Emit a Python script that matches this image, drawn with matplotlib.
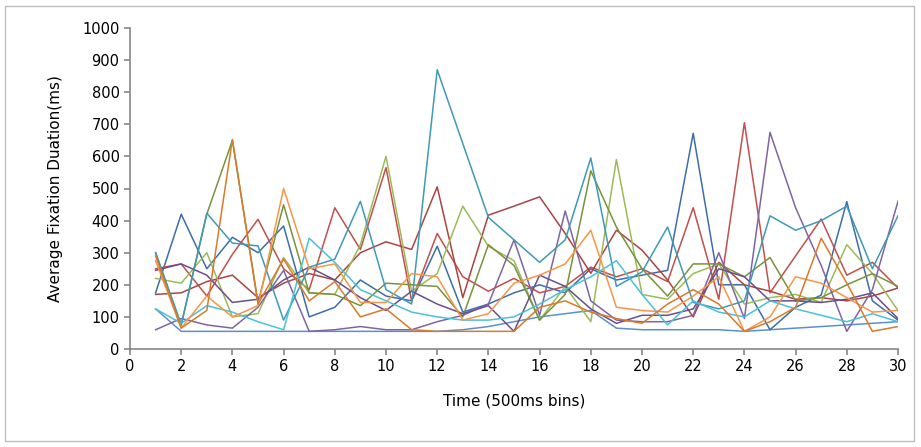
import numpy as np
import matplotlib.pyplot as plt
from matplotlib.patches import Rectangle

plt.rcParams['font.family'] = ['Liberation Sans Narrow', 'DejaVu Sans']

# Time bins
bins = list(range(1, 31))

# Average fixation duration (ms) per participant
p01 = [125, 55, 55, 55, 55, 55, 55, 55, 55, 55, 55, 55, 60, 70, 85, 100, 110, 120, 65, 60, 60, 60, 60, 55, 60, 65, 70, 75, 80, 85]
p02 = [175, 420, 250, 348, 300, 383, 100, 130, 215, 165, 150, 320, 115, 140, 175, 200, 175, 250, 215, 230, 245, 672, 200, 200, 60, 130, 168, 459, 150, 90]
p03 = [250, 265, 165, 295, 404, 250, 185, 440, 310, 565, 150, 360, 225, 180, 220, 175, 195, 255, 225, 250, 210, 440, 155, 705, 175, 290, 405, 230, 270, 190]
p04 = [170, 175, 210, 230, 160, 205, 235, 215, 300, 334, 310, 505, 160, 417, 445, 474, 360, 236, 370, 308, 215, 100, 270, 200, 180, 155, 160, 150, 165, 190]
p05 = [220, 205, 300, 100, 110, 285, 175, 170, 325, 600, 180, 235, 445, 320, 275, 90, 195, 85, 590, 170, 155, 235, 265, 140, 160, 170, 145, 325, 235, 120]
p06 = [300, 75, 420, 650, 145, 449, 175, 170, 135, 205, 200, 195, 100, 325, 260, 90, 170, 555, 380, 250, 165, 265, 265, 225, 285, 150, 160, 200, 235, 195]
p07 = [60, 95, 75, 65, 130, 245, 55, 60, 70, 60, 60, 85, 105, 140, 340, 105, 430, 150, 90, 85, 85, 105, 300, 95, 675, 440, 260, 55, 185, 460]
p08 = [245, 265, 230, 145, 155, 215, 255, 215, 160, 120, 180, 140, 110, 135, 55, 230, 195, 125, 80, 105, 105, 125, 250, 225, 150, 150, 145, 155, 175, 95]
p09 = [300, 75, 423, 330, 321, 90, 255, 280, 460, 185, 140, 870, 640, 410, 340, 270, 340, 595, 195, 240, 380, 145, 125, 150, 415, 370, 400, 445, 250, 415]
p10 = [125, 80, 135, 115, 85, 60, 345, 270, 185, 150, 115, 100, 90, 90, 100, 140, 185, 225, 275, 170, 75, 150, 115, 100, 150, 125, 105, 85, 110, 85]
p11 = [275, 65, 165, 100, 135, 500, 250, 265, 145, 145, 235, 225, 90, 110, 205, 230, 265, 370, 130, 120, 115, 165, 225, 55, 100, 225, 205, 160, 115, 120]
p12 = [290, 65, 120, 653, 140, 280, 150, 210, 100, 125, 60, 55, 55, 55, 55, 130, 150, 115, 95, 80, 140, 185, 140, 55, 85, 130, 345, 205, 55, 70]

series = [p01, p02, p03, p04, p05, p06, p07, p08, p09, p10, p11, p12]
colors = ['#5B8FD0', '#3E6DAA', '#C0504D', '#A84543', '#9BBB59', '#77933C',
          '#8064A2', '#6A4F8C', '#3F9AB5', '#4BC0D9', '#F79646', '#D97A2B']

fig = plt.figure(figsize=(9.21, 4.47), dpi=100)
ax = fig.add_axes([130 / 921, 1 - 349 / 447, 768 / 921, 321 / 447])

for vals, c in zip(series, colors):
    ax.plot(bins, vals, color=c, lw=1.1)

ax.set_xlim(0, 30)
ax.set_ylim(0, 1000)
ax.set_xticks(range(0, 31, 2))
ax.set_yticks(range(0, 1001, 100))

for s in ['top', 'right']:
    ax.spines[s].set_visible(False)
for s in ['left', 'bottom']:
    ax.spines[s].set_color('#868686')
    ax.spines[s].set_linewidth(1.2)
ax.tick_params(colors='#868686', labelcolor='black', labelsize=10.5, length=4, width=1.2)

ax.set_xlabel('Time (500ms bins)', fontsize=11, labelpad=14)
ax.set_ylabel('Average Fixation Duation(ms)', fontsize=11, labelpad=14)

# outer chart frame
fig.patches.append(Rectangle((5 / 921, 6 / 447), 909 / 921, 435 / 447,
                             transform=fig.transFigure, fill=False,
                             edgecolor='#bfbfbf', lw=1))

fig.savefig('out.png', dpi=100)
